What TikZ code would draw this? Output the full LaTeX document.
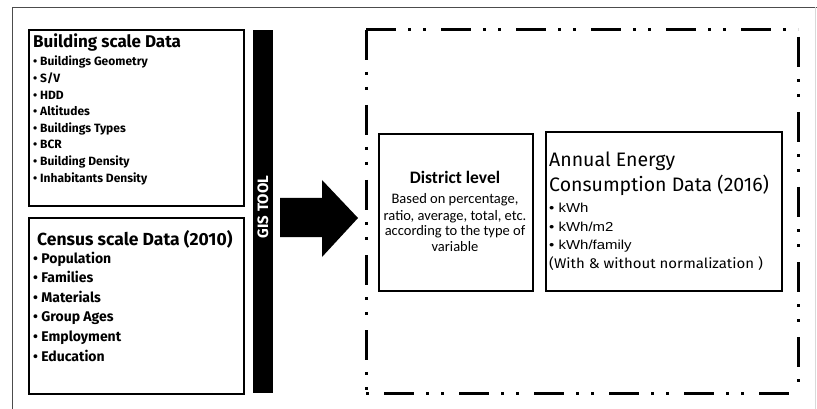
\documentclass[tikz,border=0pt]{standalone}
\usepackage{fontspec}
\setmainfont{Fira Sans}
\newfontfamily\carl{Carlito}
\newfontfamily\lib{Liberation Sans}
\begin{document}
\begin{tikzpicture}[x=1pt,y=-1pt,
  box/.style={draw, line width=2.2pt, inner sep=0, anchor=north west},
  dd/.style={line width=3pt, dash pattern=on 30pt off 12pt on 3pt off 12pt on 3pt off 15pt},
  lt/.style={anchor=base west, inner sep=0},
  bitem/.style={lt, font=\fontsize{12}{14}\selectfont\bfseries},
  citem/.style={lt, font=\fontsize{14}{16}\selectfont\bfseries},
  ditem/.style={anchor=base, inner sep=0, font=\carl\fontsize{14.5}{17}\selectfont},
  aitem/.style={lt, xscale=1.15, font=\lib\fontsize{13}{15}\selectfont}]
\useasboundingbox (0,0) rectangle (817,409);
\fill[white] (0,0) rectangle (817,409);
% outer frame
\draw[black!70, line width=0.8pt] (12,409) -- (12,7) -- (817,7);
\draw[black!15, line width=0.6pt] (815,7) -- (815,409);
% left boxes
\node[box, minimum width=215, minimum height=176] (bld) at (28,29) {};
\node[box, minimum width=215, minimum height=176] (cen) at (28,217) {};
\node[fill=black, inner sep=0, anchor=north west, minimum width=20, minimum height=363] (gisbar) at (253,30) {};
\node[rotate=90, text=white, inner sep=0, font=\fontsize{15}{15}\selectfont\bfseries] (gis) at (263,207) {GIS TOOL};
% building text
\node[lt, font=\fontsize{17}{20}\selectfont\bfseries] (bt) at (33,48) {Building scale Data};
\foreach \t [count=\i] in {Buildings Geometry, S/V, HDD, Altitudes, Buildings Types, BCR, Building Density, Inhabitants Density}
  \node[bitem] (b\i) at (33,{49.4+16.6*\i}) {• \t};
% census text
\node[lt, font=\fontsize{17.5}{20}\selectfont\bfseries] (ct) at (37,245) {Census scale Data (2010)};
\foreach \t [count=\i] in {Population, Families, Materials, Group Ages, Employment, Education}
  \node[citem] (c\i) at (33,{243.4+19.6*\i}) {• \t};
% big arrow
\fill[black] (280,198) -- (322,198) -- (322,180) -- (358,218) -- (322,257) -- (322,237) -- (280,237) -- cycle;
% dash-dot frame
\draw[dd] (366,30) -- (798,30);
\draw[dd] (366,30) -- (366,393);
\draw[dd, dash phase=57pt] (366,393) -- (798,393);
\draw[dd, dash phase=68pt] (798,30) -- (798,393);
% district box
\node[box, line width=1.6pt, minimum width=154, minimum height=157] (dist) at (378,133) {};
\node[anchor=base, inner sep=0, font=\carl\fontsize{17.5}{21}\selectfont\bfseries] (dt) at (455,184) {District level};
\node[ditem] (d1) at (455,204) {Based on percentage,};
\node[ditem] (d2) at (455,220) {ratio, average, total, etc.};
\node[ditem] (d3) at (455,235) {according to the type of};
\node[ditem] (d4) at (455,251) {variable};
% annual box
\node[box, line width=2pt, minimum width=236, minimum height=159] (ann) at (545,131) {};
\node[lt, font=\fontsize{19.5}{22}\selectfont] (a1) at (549,167) {Annual Energy};
\node[lt, font=\fontsize{19.5}{22}\selectfont] (a2) at (549,192) {Consumption Data (2016)};
\node[aitem] (k1) at (549,212) {• kWh};
\node[aitem] (k2) at (549,231) {• kWh/m2};
\node[aitem] (k3) at (549,249) {• kWh/family};
\node[lt, xscale=1.07, font=\fontsize{14}{16}\selectfont] (a3) at (549,268) {(With \& without normalization )};
\end{tikzpicture}
\end{document}
